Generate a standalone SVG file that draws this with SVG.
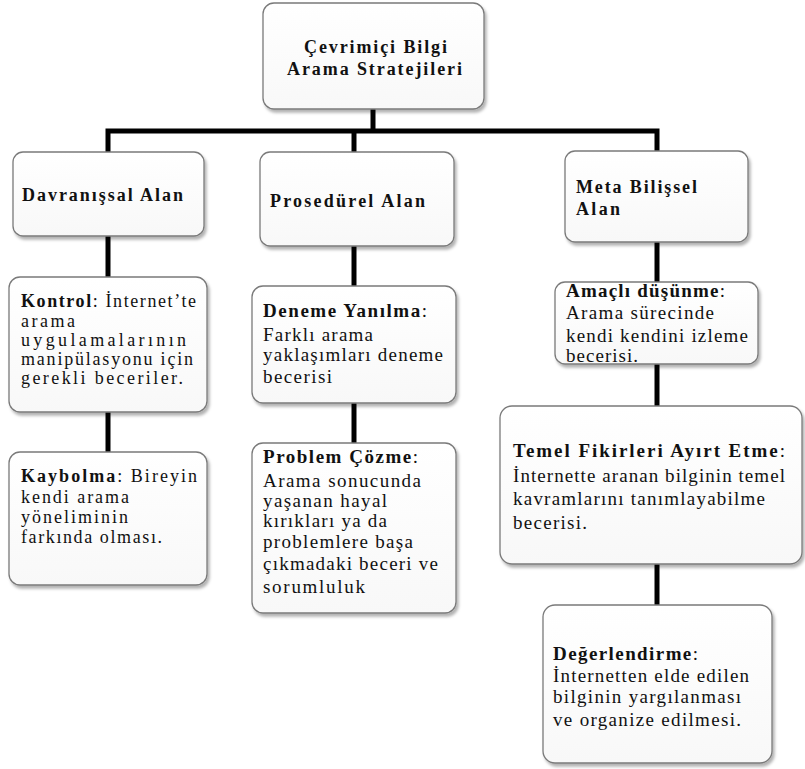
<svg xmlns="http://www.w3.org/2000/svg" width="805" height="769" viewBox="0 0 805 769">
<defs>
<linearGradient id="g" x1="0" y1="0" x2="0" y2="1">
<stop offset="0" stop-color="#ffffff"/>
<stop offset="1" stop-color="#f8f8f8"/>
</linearGradient>
<filter id="sh" x="-10%" y="-10%" width="125%" height="130%">
<feDropShadow dx="2" dy="3" stdDeviation="1.8" flood-color="#000" flood-opacity="0.3"/>
</filter>
</defs>
<style>
.box{fill:url(#g);stroke:#7a7a7a;stroke-width:1.3;filter:url(#sh)}
.ln{fill:none;stroke:#000;stroke-width:5;stroke-linejoin:miter;stroke-linecap:butt}
text{font-family:"Liberation Serif","Times New Roman",serif;font-size:19px;fill:#111}
.h{font-weight:bold;font-size:18px}
.b{font-weight:bold}
.s{font-size:18px}
</style>
<rect width="805" height="769" fill="#fff"/>
<g id="connectors">
<path class="ln" d="M373,109 V131"/>
<path class="ln" d="M108,152 V131 H657 V151"/>
<path class="ln" d="M354,131 V152"/>
<path class="ln" d="M108,236 V277"/>
<path class="ln" d="M108,412 V452"/>
<path class="ln" d="M354,246 V286"/>
<path class="ln" d="M354,403 V443"/>
<path class="ln" d="M657,242 V282"/>
<path class="ln" d="M657,364 V406"/>
<path class="ln" d="M657,564 V605"/>
</g>
<g id="root">
<rect class="box" x="263" y="3" width="221" height="106" rx="11"/>
<text class="h" x="304" y="53" textLength="143">Çevrimiçi Bilgi</text>
<text class="h" x="287" y="75" textLength="175">Arama Stratejileri</text>
</g>
<g id="davranissal">
<rect class="box" x="13" y="152" width="191" height="84" rx="10"/>
<text class="h" x="22" y="201" textLength="161">Davranışsal Alan</text>
</g>
<g id="prosedurel">
<rect class="box" x="260" y="152" width="194" height="94" rx="10"/>
<text class="h" x="270" y="207" textLength="155">Prosedürel Alan</text>
</g>
<g id="metabilissel">
<rect class="box" x="565" y="151" width="183" height="91" rx="10"/>
<text class="h" x="576" y="193" textLength="121">Meta Bilişsel</text>
<text class="h" x="576" y="215" textLength="44">Alan</text>
</g>
<g id="kontrol">
<rect class="box" x="9" y="277" width="198" height="135" rx="11"/>
<text class="s" x="21" y="307" textLength="175"><tspan class="b">Kontrol</tspan>: İnternet’te</text>
<text class="s" x="21" y="327" textLength="54">arama</text>
<text class="s" x="21" y="346" textLength="165">uygulamalarının</text>
<text class="s" x="21" y="365" textLength="172">manipülasyonu için</text>
<text class="s" x="21" y="384" textLength="162">gerekli beceriler.</text>
</g>
<g id="kaybolma">
<rect class="box" x="9" y="452" width="198" height="133" rx="11"/>
<text class="s" x="21" y="482" textLength="176"><tspan class="b">Kaybolma</tspan>: Bireyin</text>
<text class="s" x="21" y="503" textLength="108">kendi arama</text>
<text class="s" x="21" y="523" textLength="107">yöneliminin</text>
<text class="s" x="21" y="543" textLength="141">farkında olması.</text>
</g>
<g id="deneme">
<rect class="box" x="252" y="286" width="204" height="117" rx="11"/>
<text x="263" y="317" textLength="164"><tspan class="b">Deneme Yanılma</tspan>:</text>
<text x="263" y="341" textLength="110">Farklı arama</text>
<text x="263" y="361" textLength="180">yaklaşımları deneme</text>
<text x="263" y="383" textLength="69">becerisi</text>
</g>
<g id="problem">
<rect class="box" x="252" y="443" width="204" height="170" rx="11"/>
<text x="263" y="463" textLength="155"><tspan class="b">Problem Çözme</tspan>:</text>
<text x="263" y="487" textLength="158">Arama sonucunda</text>
<text x="263" y="507" textLength="124">yaşanan hayal</text>
<text x="263" y="527" textLength="124">kırıkları ya da</text>
<text x="263" y="548" textLength="150">problemlere başa</text>
<text x="263" y="570" textLength="175">çıkmadaki beceri ve</text>
<text x="263" y="593" textLength="102">sorumluluk</text>
</g>
<g id="amacli">
<rect class="box" x="555" y="282" width="203" height="82" rx="10"/>
<text x="566" y="297" textLength="159"><tspan class="b">Amaçlı düşünme</tspan>:</text>
<text x="566" y="319" textLength="148">Arama sürecinde</text>
<text x="566" y="342" textLength="182">kendi kendini izleme</text>
<text x="566" y="362" textLength="72">becerisi.</text>
</g>
<g id="temel">
<rect class="box" x="500" y="406" width="302" height="158" rx="12"/>
<text x="513" y="457" textLength="272"><tspan class="b">Temel Fikirleri Ayırt Etme</tspan>:</text>
<text x="513" y="482" textLength="272">İnternette aranan bilginin temel</text>
<text x="513" y="505" textLength="252">kavramlarını tanımlayabilme</text>
<text x="513" y="529" textLength="74">becerisi.</text>
</g>
<g id="degerlendirme">
<rect class="box" x="543" y="605" width="229" height="158" rx="12"/>
<text x="553" y="660" textLength="145"><tspan class="b">Değerlendirme</tspan>:</text>
<text x="553" y="682" textLength="196">İnternetten elde edilen</text>
<text x="553" y="703" textLength="188">bilginin yargılanması</text>
<text x="553" y="726" textLength="188">ve organize edilmesi.</text>
</g>
</svg>
